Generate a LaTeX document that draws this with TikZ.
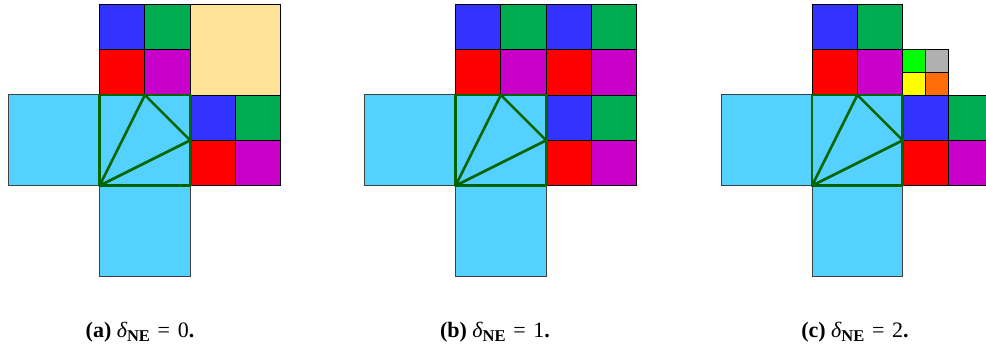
\documentclass[tikz,border=0pt]{standalone}
\usepackage{fontspec}
\setmainfont{Liberation Serif}
\definecolor{skyb}{RGB}{84,209,255}
\definecolor{cblue}{RGB}{51,51,255}
\definecolor{cgreen}{RGB}{0,172,80}
\definecolor{cred}{RGB}{255,0,0}
\definecolor{cmag}{RGB}{200,0,200}
\definecolor{cpale}{RGB}{255,227,152}
\definecolor{clime}{RGB}{0,255,0}
\definecolor{cgray}{RGB}{176,176,176}
\definecolor{cyell}{RGB}{255,255,0}
\definecolor{corange}{RGB}{255,110,10}
\definecolor{tgreen}{RGB}{0,100,0}
\newcommand\quadcells[7]{%
  \fill[#4] (#1,#2) rectangle ++(#3/2,#3/2);
  \fill[#5] (#1+#3/2,#2) rectangle ++(#3/2,#3/2);
  \fill[#6] (#1,#2+#3/2) rectangle ++(#3/2,#3/2);
  \fill[#7] (#1+#3/2,#2+#3/2) rectangle ++(#3/2,#3/2);
  \draw[cellline] (#1,#2) rectangle ++(#3,#3);
  \draw[cellline] (#1+#3/2,#2) -- ++(0,#3);
  \draw[cellline] (#1,#2+#3/2) -- ++(#3,0);
}
\newcommand\panelbase{%
  \draw[skybox] (-90.7,0) rectangle (0,90.7);
  \draw[skybox] (0,90.7) rectangle (90.7,181.4);
  \fill[skyb] (0,0) rectangle (90.7,90.7);
  \quadcells{0}{-90.7}{90.7}{cblue}{cgreen}{cred}{cmag}
  \quadcells{90.7}{0}{90.7}{cblue}{cgreen}{cred}{cmag}
}
\newcommand\paneltri{%
  \draw[tri] (0,0) rectangle (90.7,90.7);
  \draw[tri] (0,90.7) -- (45.35,0) -- (90.7,45.35) -- cycle;
}
\tikzset{
  cellline/.style={draw=black, line width=0.9pt},
  skybox/.style={fill=skyb, draw=black!75, line width=1pt},
  tri/.style={draw=tgreen, line width=2.6pt, line join=round},
  caption/.style={anchor=base, inner sep=0pt, font=\fontsize{22}{24}\selectfont}
}
\newcommand\capt[2]{{\bfseries (#1)} {\itshape δ}\raisebox{-4.5pt}{\fontsize{16.5}{16.5}\selectfont\bfseries NE}\hspace{0.35em}=\hspace{0.35em}#2{\bfseries .}}
\begin{document}
\begin{tikzpicture}[x=1pt,y=-1pt]
\useasboundingbox (0,0) rectangle (986,350);
\clip (0,0) rectangle (986,350);
% panel (a)
\begin{scope}[shift={(99.5,95)}]
  \panelbase
  \fill[cpale] (90.7,-90.7) rectangle (181.4,0);
  \draw[cellline] (90.7,-90.7) rectangle (181.4,0);
  \paneltri
\end{scope}
% panel (b)
\begin{scope}[shift={(455.5,95)}]
  \panelbase
  \quadcells{90.7}{-90.7}{90.7}{cblue}{cgreen}{cred}{cmag}
  \paneltri
\end{scope}
% panel (c)
\begin{scope}[shift={(812,95)}]
  \panelbase
  \quadcells{90.7}{-45.35}{45.35}{clime}{cgray}{cyell}{corange}
  \paneltri
\end{scope}
\node[caption] (capa) at (140,337) {\capt{a}{0}};
\node[caption] (capb) at (495,337) {\capt{b}{1}};
\node[caption] (capc) at (855,337) {\capt{c}{2}};
\end{tikzpicture}
\end{document}
